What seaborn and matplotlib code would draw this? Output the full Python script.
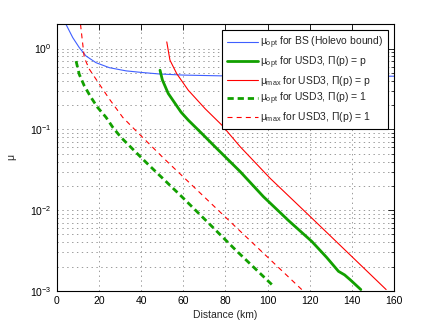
import matplotlib
matplotlib.use("Agg")
import matplotlib.pyplot as plt
import matplotlib.ticker as mticker
import pandas as pd
import seaborn as sns

# values
bs_km = [4.4, 7.6, 10.7, 13.9, 18.6, 25, 32.9, 40.8, 48.7, 60, 77.5, 100, 130, 160]
bs_mu_opt = [2.0, 1.37, 1.03, 0.81, 0.67, 0.58, 0.53, 0.505, 0.485, 0.47, 0.46, 0.458, 0.456, 0.455]

usd_p_km = [49.0, 50.1, 52.9, 56.1, 59.0, 62.4, 68.8, 75.9, 87, 98, 110, 121, 128, 133.6, 136.5, 139.1, 144.2]
usd_p_mu_opt = [0.54, 0.41, 0.278, 0.21, 0.163, 0.130, 0.089, 0.058, 0.030, 0.0147, 0.0074, 0.00409, 0.0026,
                0.00175, 0.00158, 0.00138, 0.00104]

usd_p_max_km = [52.2, 53.7, 56.9, 62.4, 70.4, 78.3, 87, 101.2, 121, 140.7, 156.2]
usd_p_mu_max = [1.21, 0.72, 0.49, 0.305, 0.18, 0.113, 0.061, 0.0248, 0.00796, 0.00255, 0.00104]

usd_1_km = [9.2, 10.7, 13.1, 16.3, 19.4, 23.4, 26.6, 30.5, 38.4, 42.4, 59.3, 72.8, 84.7, 102]
usd_1_mu_opt = [0.70, 0.48, 0.345, 0.248, 0.187, 0.141, 0.106, 0.0796, 0.0495, 0.039, 0.0147, 0.0066, 0.00324,
                0.0012]

usd_1_max_km = [11.3, 12.0, 13.1, 15.5, 18.6, 25, 31.3, 37.6, 45.5, 50.3, 65, 83, 100, 116.2]
usd_1_mu_max = [2.0, 1.37, 0.77, 0.555, 0.42, 0.237, 0.141, 0.096, 0.06, 0.045, 0.0194, 0.0069, 0.00262, 0.00104]

x_ticks = [0, 20, 40, 60, 80, 100, 120, 140, 160]

BLUE = "#3f5fff"
GREEN = "#12a000"
RED = "#ff0000"

sns.set_style("white")
plt.rcParams["font.family"] = ["Liberation Sans", "DejaVu Sans"]
plt.rcParams["mathtext.fontset"] = "custom"
plt.rcParams["mathtext.rm"] = "Liberation Sans"
plt.rcParams["mathtext.it"] = "Liberation Sans"
plt.rcParams["lines.scale_dashes"] = False

series = [
    (bs_km, bs_mu_opt, BLUE, 0.8, "-", r"$\mu_{\rm opt}$ for BS (Holevo bound)"),
    (usd_p_km, usd_p_mu_opt, GREEN, 2.0, "-", r"$\mu_{\rm opt}$ for USD3, $\Pi$(p) = p"),
    (usd_p_max_km, usd_p_mu_max, RED, 0.8, "-", r"$\mu_{\rm max}$ for USD3, $\Pi$(p) = p"),
    (usd_1_km, usd_1_mu_opt, GREEN, 2.0, (0, (4.5, 2.8)), r"$\mu_{\rm opt}$ for USD3, $\Pi$(p) = 1"),
    (usd_1_max_km, usd_1_mu_max, RED, 0.8, (0, (3.6, 3.0)), r"$\mu_{\rm max}$ for USD3, $\Pi$(p) = 1"),
]

fig = plt.figure(figsize=(4.36, 3.28), dpi=100)
ax = fig.add_axes([0.13, 0.113, 0.774, 0.813])

for km, mu, color, lw, ls, label in series:
    df = pd.DataFrame({"km": km, "mu": mu})
    sns.lineplot(data=df, x="km", y="mu", ax=ax, color=color, lw=lw,
                 linestyle=ls, label=label, estimator=None, sort=False)

ax.set_yscale("log")
ax.set_xlim(0, 160)
ax.set_ylim(1e-3, 2)
ax.set_xticks(x_ticks)
ax.yaxis.set_major_locator(mticker.LogLocator(base=10, numticks=10))
ax.yaxis.set_minor_locator(mticker.LogLocator(base=10, subs=range(2, 10), numticks=20))
ax.yaxis.set_minor_formatter(mticker.NullFormatter())

ax.grid(True, which="major", axis="both", color="#8a8a8a", linestyle=(0, (1, 2.5)), linewidth=0.6)
ax.grid(True, which="minor", axis="y", color="#8a8a8a", linestyle=(0, (1, 2.5)), linewidth=0.6)

ax.tick_params(which="both", direction="in", top=True, right=True, labelsize=7.5, colors="black")
ax.tick_params(which="major", length=4, width=0.6)
ax.tick_params(which="minor", length=2, width=0.5)
for side in ax.spines.values():
    side.set_color("black")
    side.set_linewidth(0.8)

ax.set_xlabel("Distance (km)", fontsize=7.5, labelpad=3)
ax.set_ylabel(r"$\mu$", fontsize=7.5, labelpad=8)

leg = ax.legend(loc="upper right", fontsize=7.5, frameon=True, fancybox=False,
                framealpha=1, edgecolor="black", handlelength=3.0,
                borderaxespad=0.55, labelspacing=0.3, handletextpad=0.25,
                borderpad=0.45)
leg.get_frame().set_linewidth(0.8)

fig.savefig("out.png", dpi=100)
